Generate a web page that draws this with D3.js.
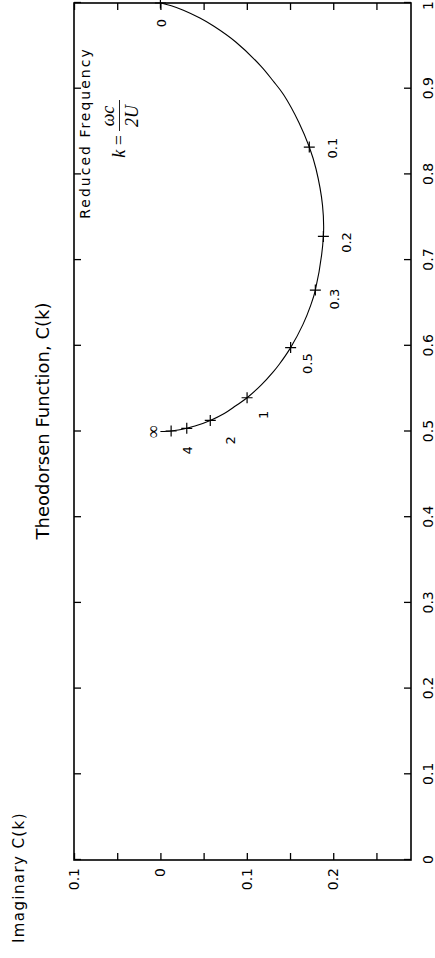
<!DOCTYPE html>
<html>
<head>
<meta charset="utf-8">
<script src="https://cdn.jsdelivr.net/npm/d3@7"></script>
<style>
  body { margin: 0; background: #fff; }
  text { font-family: "DejaVu Sans", sans-serif; fill: #000; }
</style>
</head>
<body>
<svg id="chart" width="435" height="958"></svg>
<script>
// Theodorsen function table: k, Re C(k), Im C(k)
var kTable = [0, 0.0005, 0.002, 0.005, 0.01, 0.015, 0.025, 0.04, 0.05, 0.06, 0.08, 0.1, 0.12, 0.16, 0.2,
  0.3, 0.34, 0.4, 0.5, 0.6, 0.66, 0.8, 1.0, 1.2, 1.5, 2, 3, 4, 6, 10, Infinity];
var realC = [1.0, 0.9992, 0.9967, 0.9915, 0.9824, 0.9731, 0.9545, 0.9267, 0.9090, 0.8930, 0.8604, 0.8319, 0.8063, 0.7639, 0.7276,
  0.6650, 0.6469, 0.6250, 0.5979, 0.5788, 0.5699, 0.5541, 0.5394, 0.5300, 0.5210, 0.5129, 0.5063, 0.5037, 0.5017, 0.5006, 0.5];
var imagC = [0, -0.0039, -0.0126, -0.0266, -0.0457, -0.0615, -0.0872, -0.1160, -0.1305, -0.1426, -0.1604, -0.1723, -0.1801, -0.1876, -0.1886,
  -0.1793, -0.1738, -0.1650, -0.1507, -0.1378, -0.1308, -0.1165, -0.1003, -0.0872, -0.0739, -0.0577, -0.0400, -0.0305, -0.0206, -0.0124, 0];

// marked reduced frequencies and their labels
var markerK = [0, 0.1, 0.2, 0.3, 0.5, 1, 2, 4, 10];
var markerText = ["0", "0.1", "0.2", "0.3", "0.5", "1", "2", "4", "\u221e"];

var realTicks = [0, 0.1, 0.2, 0.3, 0.4, 0.5, 0.6, 0.7, 0.8, 0.9, 1];
var imagTicks = [0.1, 0.05, 0, -0.05, -0.1, -0.15, -0.2, -0.25];
var imagLabeled = [0.1, 0, -0.1, -0.2];

// label nudges in px (landscape frame), relative to the marker
var nudge = {
  "0": [-20, 1], "0.1": [-1, 23], "0.2": [-6, 23], "0.3": [-9, 19], "0.5": [-16, 17],
  "1": [-17, 16], "2": [-20, 20], "4": [-22, 1], "\u221e": [-1, -18]
};

var svg = d3.select("#chart");

// the chart is drawn landscape and turned a quarter turn
var g = svg.append("g").attr("transform", "translate(0,958) rotate(-90)");

var x = d3.scaleLinear().domain([0, 1]).range([98, 955]);
var y = d3.scaleLinear().domain([0.1, -0.29]).range([74, 411]);

var fmt = d3.format(".1~f");

g.append("g")
  .attr("transform", "translate(0,411)")
  .call(d3.axisBottom(x).tickValues(realTicks).tickSize(-7).tickSizeOuter(0).tickPadding(12)
    .tickFormat(function(d) { return d === 0 || d === 1 ? String(d) : fmt(d); }))
  .call(function(a) { a.select(".domain").remove(); })
  // last label sits on the page edge; pull it in a touch
  .call(function(a) {
    a.selectAll(".tick text").filter(function(d) { return d === 1; }).attr("dx", -3);
  });

g.append("g")
  .attr("transform", "translate(0,74)")
  .call(d3.axisTop(x).tickValues(realTicks).tickSize(-7).tickSizeOuter(0).tickFormat(""))
  .call(function(a) { a.select(".domain").remove(); });

g.append("g")
  .attr("transform", "translate(98,0)")
  .call(d3.axisLeft(y).tickValues(imagTicks).tickSize(-7).tickSizeOuter(0).tickPadding(8)
    .tickFormat(function(d) {
      if (imagLabeled.indexOf(d) < 0) return "";
      return d === 0 ? "0" : fmt(Math.abs(d));
    }))
  .call(function(a) { a.select(".domain").remove(); });

g.append("g")
  .attr("transform", "translate(955,0)")
  .call(d3.axisRight(y).tickValues(imagTicks).tickSize(-7).tickSizeOuter(0).tickFormat(""))
  .call(function(a) { a.select(".domain").remove(); });

g.selectAll(".tick line").attr("stroke", "#000").attr("stroke-width", 1.3);
g.selectAll(".tick text").style("font-size", "14px").attr("fill", "#000");

g.append("rect")
  .attr("x", x(0)).attr("y", y(0.1))
  .attr("width", x(1) - x(0)).attr("height", y(-0.29) - y(0.1))
  .attr("fill", "none").attr("stroke", "#000").attr("stroke-width", 1.6);

// curve
var pts = kTable.map(function(k, i) { return [realC[i], imagC[i]]; });
var line = d3.line()
  .x(function(d) { return x(d[0]); })
  .y(function(d) { return y(d[1]); })
  .curve(d3.curveCatmullRom.alpha(0.5));

g.append("path")
  .datum(pts)
  .attr("d", line)
  .attr("fill", "none")
  .attr("stroke", "#000")
  .attr("stroke-width", 1.1);

// markers
var marks = markerK.map(function(k, i) {
  var j = kTable.indexOf(k);
  return { k: k, label: markerText[i], re: realC[j], im: imagC[j] };
});

g.selectAll(".mark")
  .data(marks)
  .enter().append("path")
  .attr("class", "mark")
  .attr("transform", function(d) { return "translate(" + x(d.re) + "," + y(d.im) + ")"; })
  .attr("d", "M-5.5,0H5.5M0,-5.5V5.5")
  .attr("stroke", "#000")
  .attr("stroke-width", 1.2);

g.selectAll(".klabel")
  .data(marks)
  .enter().append("text")
  .attr("class", "klabel")
  .attr("x", function(d) { return x(d.re) + nudge[d.label][0]; })
  .attr("y", function(d) { return y(d.im) + nudge[d.label][1]; })
  .attr("dy", function(d) { return d.label === "\u221e" ? "0.3em" : "0.36em"; })
  .attr("text-anchor", "middle")
  .style("font-size", function(d) { return d.label === "\u221e" ? "18px" : "13px"; })
  .style("font-family", function(d) { return d.label === "\u221e" ? "'Liberation Serif', serif" : null; })
  .attr("fill", function(d) { return d.label === "\u221e" ? "#333" : "#000"; })
  .text(function(d) { return d.label; });

// titles
g.append("text")
  .attr("x", 537).attr("y", 49)
  .attr("text-anchor", "middle")
  .style("font-size", "18px")
  .text("Theodorsen Function, C(k)");

g.append("text")
  .attr("x", 15).attr("y", 24)
  .style("font-size", "15px")
  .style("letter-spacing", "1.4px")
  .text("Imaginary C(k)");

// reduced frequency annotation
g.append("text")
  .attr("x", 825).attr("y", 90)
  .attr("text-anchor", "middle")
  .style("font-size", "14px")
  .style("letter-spacing", "2px")
  .attr("fill", "#222")
  .text("Reduced Frequency");

var serif = "'Liberation Serif', 'DejaVu Serif', serif";
var eq = g.append("g").attr("fill", "#222");
eq.append("text")
  .attr("x", 823).attr("y", 125)
  .attr("text-anchor", "end")
  .style("font-family", serif).style("font-size", "18px")
  .html("<tspan font-style='italic'>k</tspan> =");
eq.append("text")
  .attr("x", 842).attr("y", 114)
  .attr("text-anchor", "middle")
  .style("font-family", serif).style("font-size", "18px").style("font-style", "italic")
  .text("\u03c9c");
eq.append("line")
  .attr("x1", 827).attr("x2", 858).attr("y1", 119.5).attr("y2", 119.5)
  .attr("stroke", "#222").attr("stroke-width", 1);
eq.append("text")
  .attr("x", 842).attr("y", 138)
  .attr("text-anchor", "middle")
  .style("font-family", serif).style("font-size", "18px").style("font-style", "italic")
  .text("2U");
</script>
</body>
</html>
